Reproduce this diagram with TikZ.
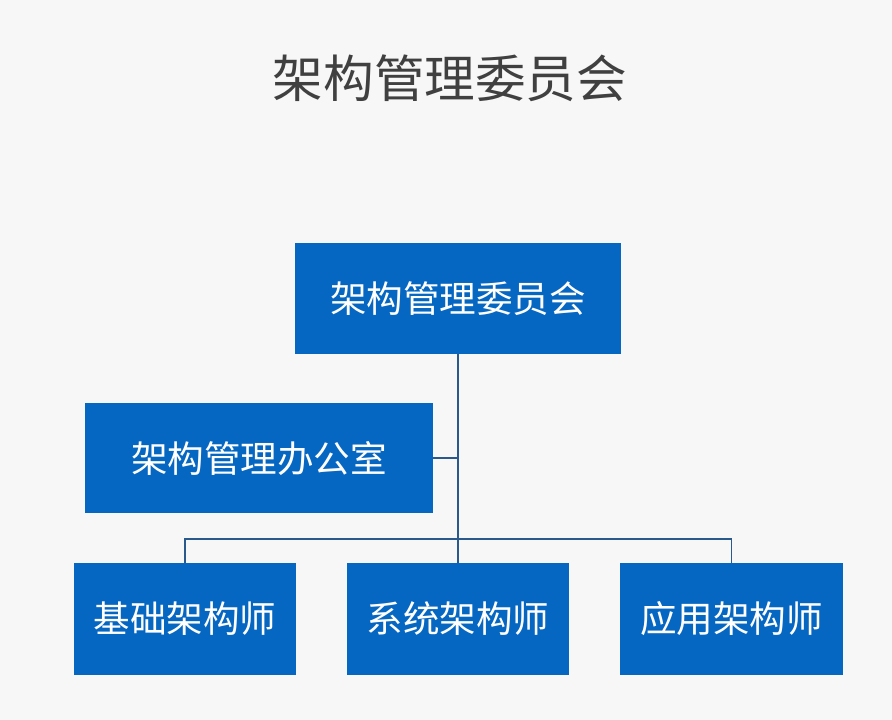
\documentclass[tikz,border=0pt]{standalone}
\usepackage{fontspec}
\usepackage{xcolor}
\newfontfamily\cjk{Noto Sans CJK SC}
\definecolor{bgcol}{HTML}{F7F7F7}
\definecolor{boxblue}{HTML}{0667C2}
\definecolor{linkblue}{HTML}{2A5A8C}
\definecolor{titlegray}{HTML}{404040}

\begin{document}
\begin{tikzpicture}[x=0.025cm, y=-0.025cm,
    orgbox/.style={fill=boxblue, text=white, inner sep=0pt, font=\cjk\fontsize{26}{30}\selectfont},
    link/.style={draw=linkblue, line width=1.3pt}]
    % Page background
    \fill[bgcol] (0,0) rectangle (892,720);
    % Title
    \node[font=\cjk\fontsize{36}{42}\selectfont, text=titlegray] (title) at (450,78) {架构管理委员会};
    % Committee
    \node[orgbox, minimum width=8.15cm, minimum height=2.78cm] (committee) at (458,298.5) {架构管理委员会};
    % Office
    \node[orgbox, minimum width=8.7cm, minimum height=2.75cm] (office) at (259,458) {架构管理办公室};
    % Architects
    \node[orgbox, minimum width=5.55cm, minimum height=2.8cm] (infra) at (185,619) {基础架构师};
    \node[orgbox, minimum width=5.55cm, minimum height=2.8cm] (system) at (458,619) {系统架构师};
    \node[orgbox, minimum width=5.575cm, minimum height=2.8cm] (app) at (731.5,619) {应用架构师};
    % Connectors
    \coordinate (bar) at (458,539);
    \draw[link] (committee.south) -- (system.north);
    \draw[link] (office.east) -- (office.east -| committee.south);
    \draw[link] (infra.north) |- (bar) -| (app.north);
\end{tikzpicture}
\end{document}
